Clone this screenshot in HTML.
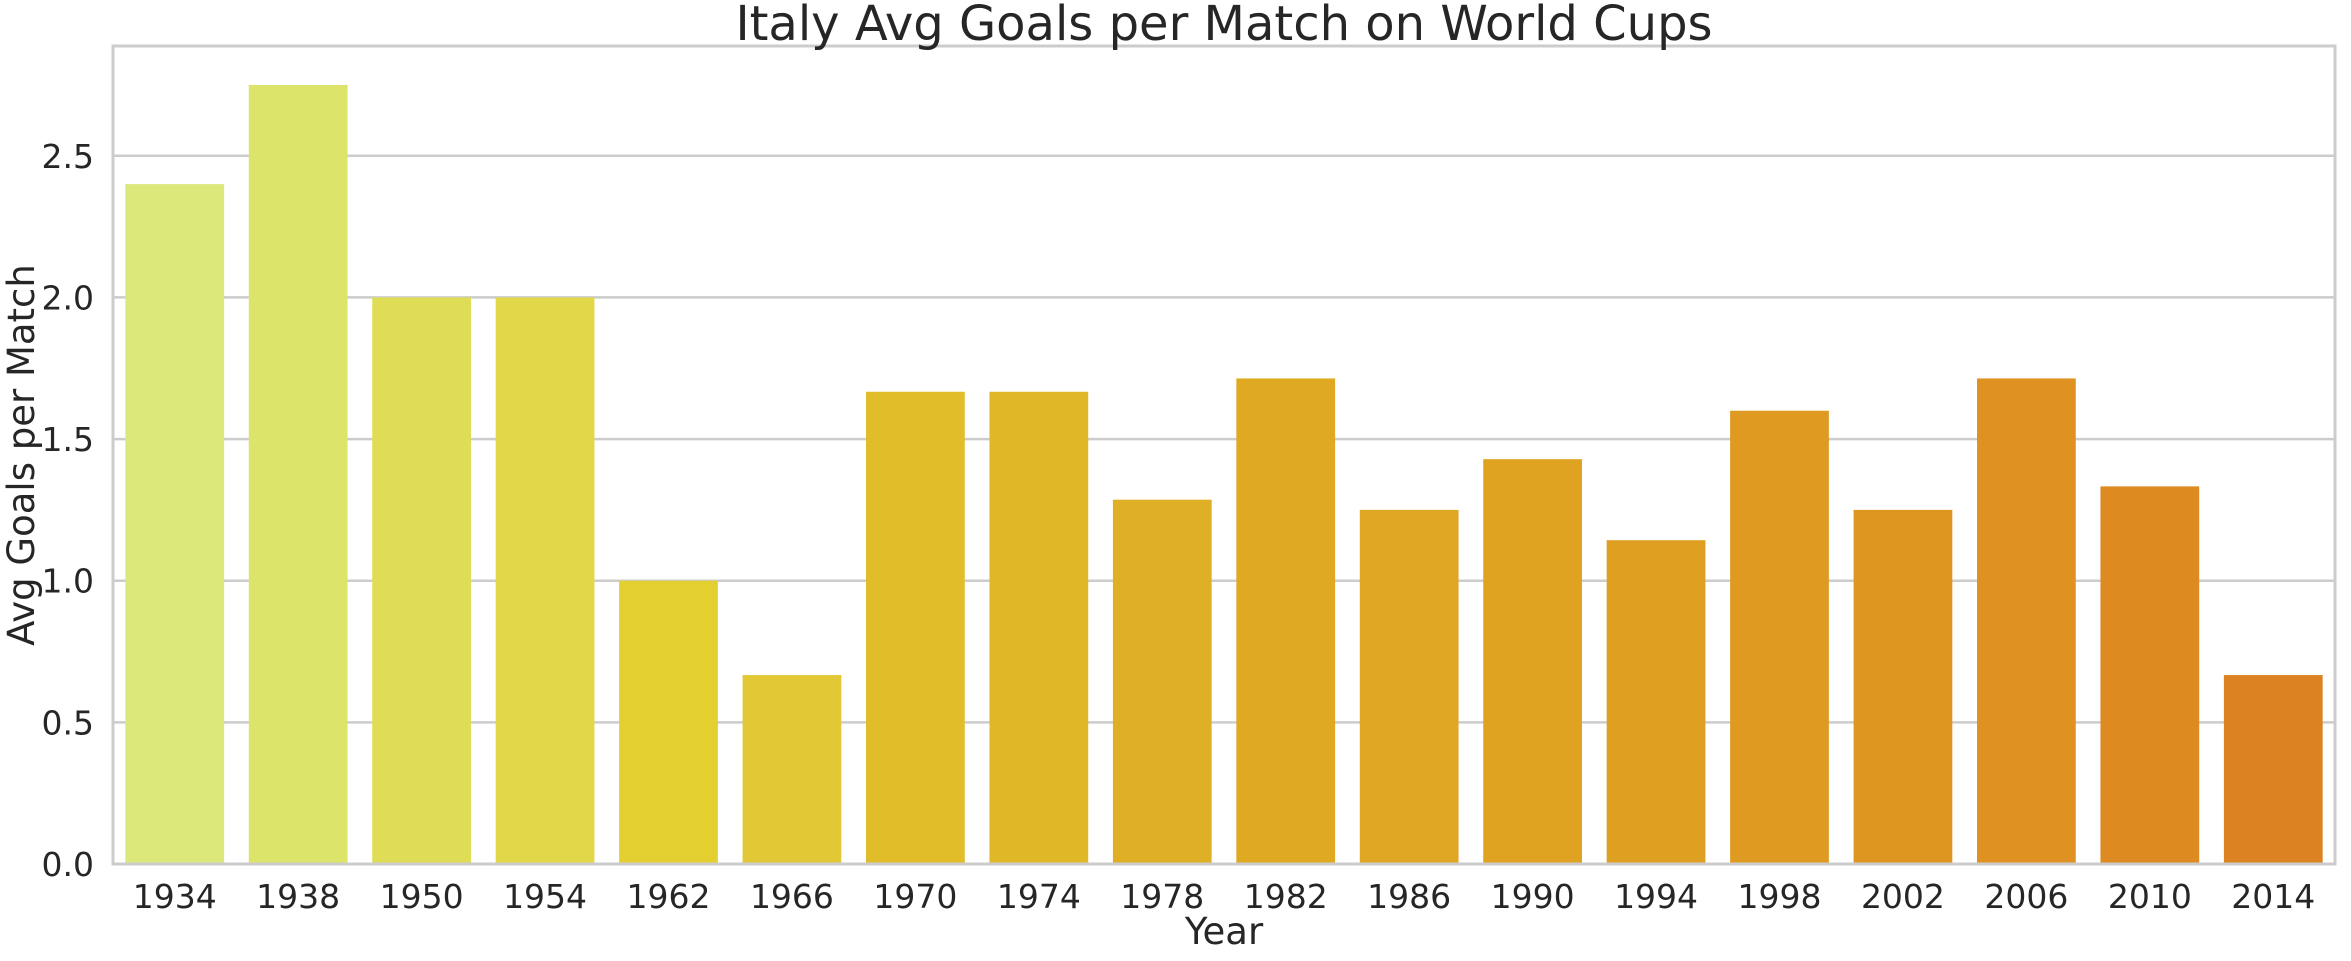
<!DOCTYPE html>
<html><head><meta charset="utf-8"><style>
html,body{margin:0;padding:0;background:#fff;}
svg text{font-family:"DejaVu Sans","Liberation Sans",sans-serif;fill:#262626;}
</style></head><body>
<svg id="chart" width="2351" height="956" xmlns="http://www.w3.org/2000/svg">
<g id="grid"></g><g id="bars"></g><g id="axes"></g>
<text x="1224" y="40" font-size="48" text-anchor="middle">Italy Avg Goals per Match on World Cups</text>
<text x="1224" y="944" font-size="37" text-anchor="middle">Year</text>
<text transform="translate(34,455) rotate(-90)" font-size="37" text-anchor="middle">Avg Goals per Match</text>
</svg>
<script>
const categories=["1934","1938","1950","1954","1962","1966","1970","1974","1978","1982","1986","1990","1994","1998","2002","2006","2010","2014"];
const values=[2.4,2.75,2.0,2.0,1.0,0.667,1.667,1.667,1.286,1.714,1.25,1.429,1.143,1.6,1.25,1.714,1.333,0.667];
const colors=["#dce87a","#dde46a","#dfdc55","#e1d748","#e3cf30","#e2c835","#e1bd2a","#e0b827","#dfb025","#dfaa22","#dfa623","#dfa321","#df9f21","#df9a21","#df9621","#df9221","#dd8a21","#dc8222"];
const yTicks=[0,0.5,1.0,1.5,2.0,2.5];
const yTickLabels=["0.0","0.5","1.0","1.5","2.0","2.5"];
const L=113,R=2335,T=46,B=864,YMAX=2.8875;
const y=v=>B-(v/YMAX)*(B-T);
const band=(R-L)/categories.length;
const x=i=>L+band*i;
const NS="http://www.w3.org/2000/svg";
function mk(tag,attrs,parent){const e=document.createElementNS(NS,tag);for(const k in attrs)e.setAttribute(k,attrs[k]);document.getElementById(parent).appendChild(e);return e;}
yTicks.forEach((t,i)=>{
  const g=mk('line',{x1:L,x2:R,y1:y(t),y2:y(t),stroke:'#cccccc','stroke-width':2.5},'grid');
  
  
  const tx=mk('text',{x:94,y:y(t)+12,'font-size':33,'text-anchor':'end'},'axes');
  tx.textContent=yTickLabels[i];
  
  
});
categories.forEach((c,i)=>{
  const w=band*0.8;
  const r=mk('rect',{x:x(i)+band*0.1,y:y(values[i]),width:w,height:B-y(values[i]),fill:colors[i]},'bars');
  
  
  const tx=mk('text',{x:x(i)+band/2,y:908,'font-size':33,'text-anchor':'middle'},'axes');
  tx.textContent=c;
  
  
});
const fr=mk('rect',{x:L,y:T,width:R-L,height:B-T,fill:'none',stroke:'#cccccc','stroke-width':3},'axes');


</script>
</body></html>
